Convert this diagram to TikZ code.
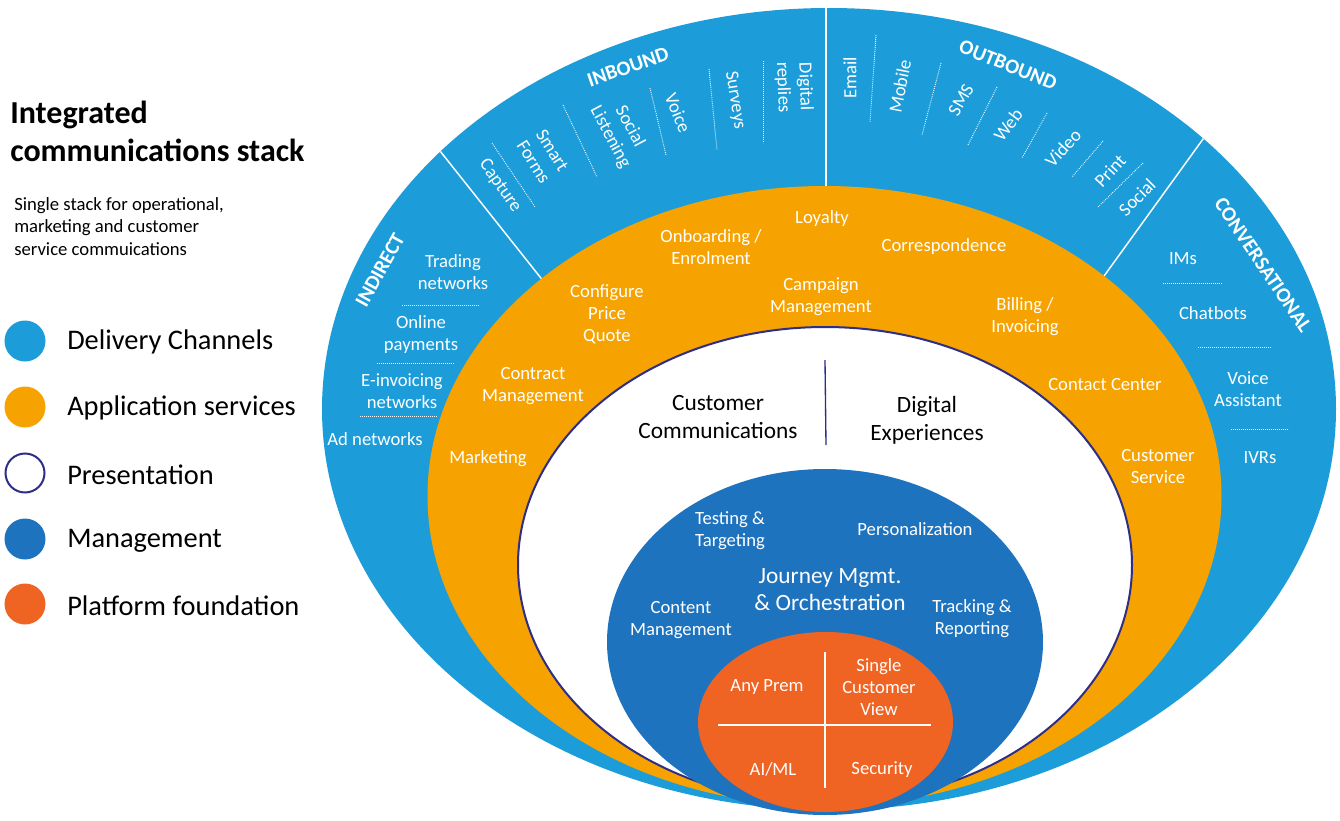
\documentclass[tikz,border=0pt]{standalone}
\usepackage{fontspec}
\setmainfont{Carlito}
\definecolor{cblue}{RGB}{28,157,217}
\definecolor{corange}{RGB}{246,162,0}
\definecolor{navy}{RGB}{46,46,135}
\definecolor{cmgmt}{RGB}{30,115,190}
\definecolor{cplat}{RGB}{239,99,35}
\tikzset{
 lbl/.style={text=white, font=\fontsize{14}{16.6}\selectfont, align=center, inner sep=0pt},
 lblh/.style={lbl, yshift=-1pt},
 hdr/.style={text=white, font=\bfseries\fontsize{15.5}{18}\selectfont, inner sep=0pt},
 dots/.style={white, line width=0.7pt, dash pattern=on 0.6pt off 0.9pt},
 sepline/.style={white, line width=1.1pt},
 pres/.style={text=black, font=\fontsize{17.5}{21}\selectfont, align=center, inner sep=0pt},
 big/.style={text=white, font=\fontsize{17.5}{20.3}\selectfont, align=center, inner sep=0pt},
 leg/.style={font=\fontsize{21.3}{25}\selectfont, anchor=west, text=black, inner sep=0pt, yshift=-1pt},
 sub/.style={font=\fontsize{14}{16.6}\selectfont, anchor=base west, text=black, inner sep=0pt},
 ttl/.style={font=\bfseries\fontsize{24}{28}\selectfont, anchor=base west, text=black, inner sep=0pt},
}
\begin{document}
\begin{tikzpicture}[x=0.75pt,y=-0.75pt]
\useasboundingbox (0,0) rectangle (1340,821);
% ---------- rings ----------
\fill[cblue] (829,409) ellipse [x radius=507, y radius=401];
\begin{scope}
 \clip (829,409) ellipse [x radius=507, y radius=401];
 \draw[sepline] (826,0) -- (826,260);
 \draw[sepline] (421,127) -- (571,316);
 \draw[sepline] (1224,110) -- (1073,319);
\end{scope}
\fill[corange] (824.5,496) ellipse [x radius=397, y radius=310];
\filldraw[fill=white, draw=navy, line width=1.5pt] (825,565) ellipse [x radius=307, y radius=238];
\fill[cmgmt] (825,642) ellipse [x radius=218, y radius=173];
\fill[cplat] (825.5,722) ellipse [x radius=127.5, y radius=90];
% ---------- INBOUND ----------
\node[hdr, rotate=19] (inb) at (628,67) {INBOUND};
\node[lbl, rotate=-55] (capture) at (500,186) {Capture};
\node[lbl, rotate=-58] (smart) at (543,156) {Smart\\Forms};
\node[lbl, rotate=-62] (social) at (620,132) {Social\\Listening};
\node[lbl, rotate=-68] (voice) at (678,113) {Voice};
\node[lbl, rotate=-81] (surveys) at (735,100) {Surveys};
\node[lbl, rotate=-88] (digrep) at (794,87) {Digital\\replies};
\draw[dots] (492,143) -- (535,207);
\draw[dots] (563,105) -- (597,177);
\draw[dots] (650,88) -- (666,155);
\draw[dots] (709,69) -- (717,150);
\draw[dots] (763,61) -- (763,143);
% ---------- OUTBOUND ----------
\node[hdr, rotate=-22] (outb) at (1008,65) {OUTBOUND};
\node[lbl, rotate=90] (email) at (850,78) {Email};
\node[lbl, rotate=79] (mobile) at (900,86) {Mobile};
\node[lbl, rotate=60] (sms) at (961,100) {SMS};
\node[lbl, rotate=53] (web) at (1008,125) {Web};
\node[lbl, rotate=48] (video) at (1063,148) {Video};
\node[lbl, rotate=47] (print) at (1110,171) {Print};
\node[lbl, rotate=45] (osocial) at (1137,197) {Social};
\draw[dots] (876,35) -- (870,122);
\draw[dots] (941,63) -- (922,135);
\draw[dots] (997,87) -- (968,145);
\draw[dots] (1047,113) -- (1022,158);
\draw[dots] (1103,141) -- (1072,177);
\draw[dots] (1143,163) -- (1098,207);
% ---------- INDIRECT ----------
\node[hdr, rotate=61] (ind) at (380,270) {INDIRECT};
\node[lblh] (trading) at (453,271) {Trading\\networks};
\draw[dots] (402,305) -- (479,305);
\node[lblh] (online) at (421,333) {Online\\payments};
\draw[dots] (377,363) -- (454,363);
\node[lblh] (einv) at (402,390) {E-invoicing\\networks};
\draw[dots] (360,416) -- (437,416);
\node[lblh] (adnet) at (375,438) {Ad networks};
% ---------- CONVERSATIONAL ----------
\node[hdr, rotate=-56] (conv) at (1263,265) {CONVERSATIONAL};
\node[lblh] (ims) at (1183,257) {IMs};
\draw[dots] (1163,283) -- (1222,283);
\node[lblh] (chat) at (1213,312) {Chatbots};
\draw[dots] (1198,347) -- (1271,347);
\node[lblh] (vass) at (1248,388) {Voice\\Assistant};
\draw[dots] (1231,429) -- (1289,429);
\node[lblh] (ivr) at (1260,456) {IVRs};
% ---------- Application services ----------
\node[lblh] (loyal) at (822,217) {Loyalty};
\node[lblh] (onb) at (711,246) {Onboarding /\\Enrolment};
\node[lblh] (corr) at (944,245) {Correspondence};
\node[lblh] (cpq) at (607,313) {Configure\\Price\\Quote};
\node[lblh] (camp) at (821,295) {Campaign\\Management};
\node[lblh] (bill) at (1025,315) {Billing /\\Invoicing};
\node[lblh] (contr) at (533,385) {Contract\\Management};
\node[lblh] (cc) at (1105,383) {Contact Center};
\node[lblh] (mkt) at (488,457) {Marketing};
\node[lblh] (cs) at (1158,465) {Customer\\Service};
% ---------- Presentation ----------
\node[pres] (ccom) at (718,417) {Customer\\Communications};
\node[pres] (dexp) at (927,420) {Digital\\Experiences};
\draw[navy, line width=1pt] (825,360) -- (826,445);
% ---------- Management ----------
\node[lbl] (test) at (730,531) {Testing \&\\Targeting};
\node[lbl] (pers) at (915,529) {Personalization};
\node[big] (journey) at (830,590) {Journey Mgmt.\\\& Orchestration};
\node[lbl] (content) at (681,620) {Content\\Management};
\node[lbl] (track) at (972,619) {Tracking \&\\Reporting};
% ---------- Platform ----------
\draw[white, line width=1pt] (718,725) -- (931,725);
\draw[white, line width=1pt] (825,652) -- (825,788);
\node[lbl] (anyprem) at (767,687) {Any Prem};
\node[lbl] (scv) at (879,687) {Single\\Customer\\View};
\node[lbl] (aiml) at (773,769) {AI/ML};
\node[lbl] (sec) at (882,770) {Security};
% ---------- Title & legend ----------
\node[ttl] (t1) at (10,123) {Integrated};
\node[ttl] (t2) at (10,161) {communications stack};
\node[sub] (s1) at (14,210) {Single stack for operational,};
\node[sub] (s2) at (14,232) {marketing and customer};
\node[sub] (s3) at (14,255) {service commuications};
\fill[cblue] (25,341) circle [radius=20.5];
\fill[corange] (25,407) circle [radius=20.5];
\filldraw[fill=white, draw=navy, line width=1.5pt] (25,473) circle [radius=19.5];
\fill[cmgmt] (25,539) circle [radius=20.5];
\fill[cplat] (25,604) circle [radius=20.5];
\node[leg] (l1) at (67,341) {Delivery Channels};
\node[leg] (l2) at (67,407) {Application services};
\node[leg] (l3) at (67,473) {Presentation};
\node[leg] (l4) at (67,539) {Management};
\node[leg] (l5) at (67,604) {Platform foundation};
\end{tikzpicture}
\end{document}
